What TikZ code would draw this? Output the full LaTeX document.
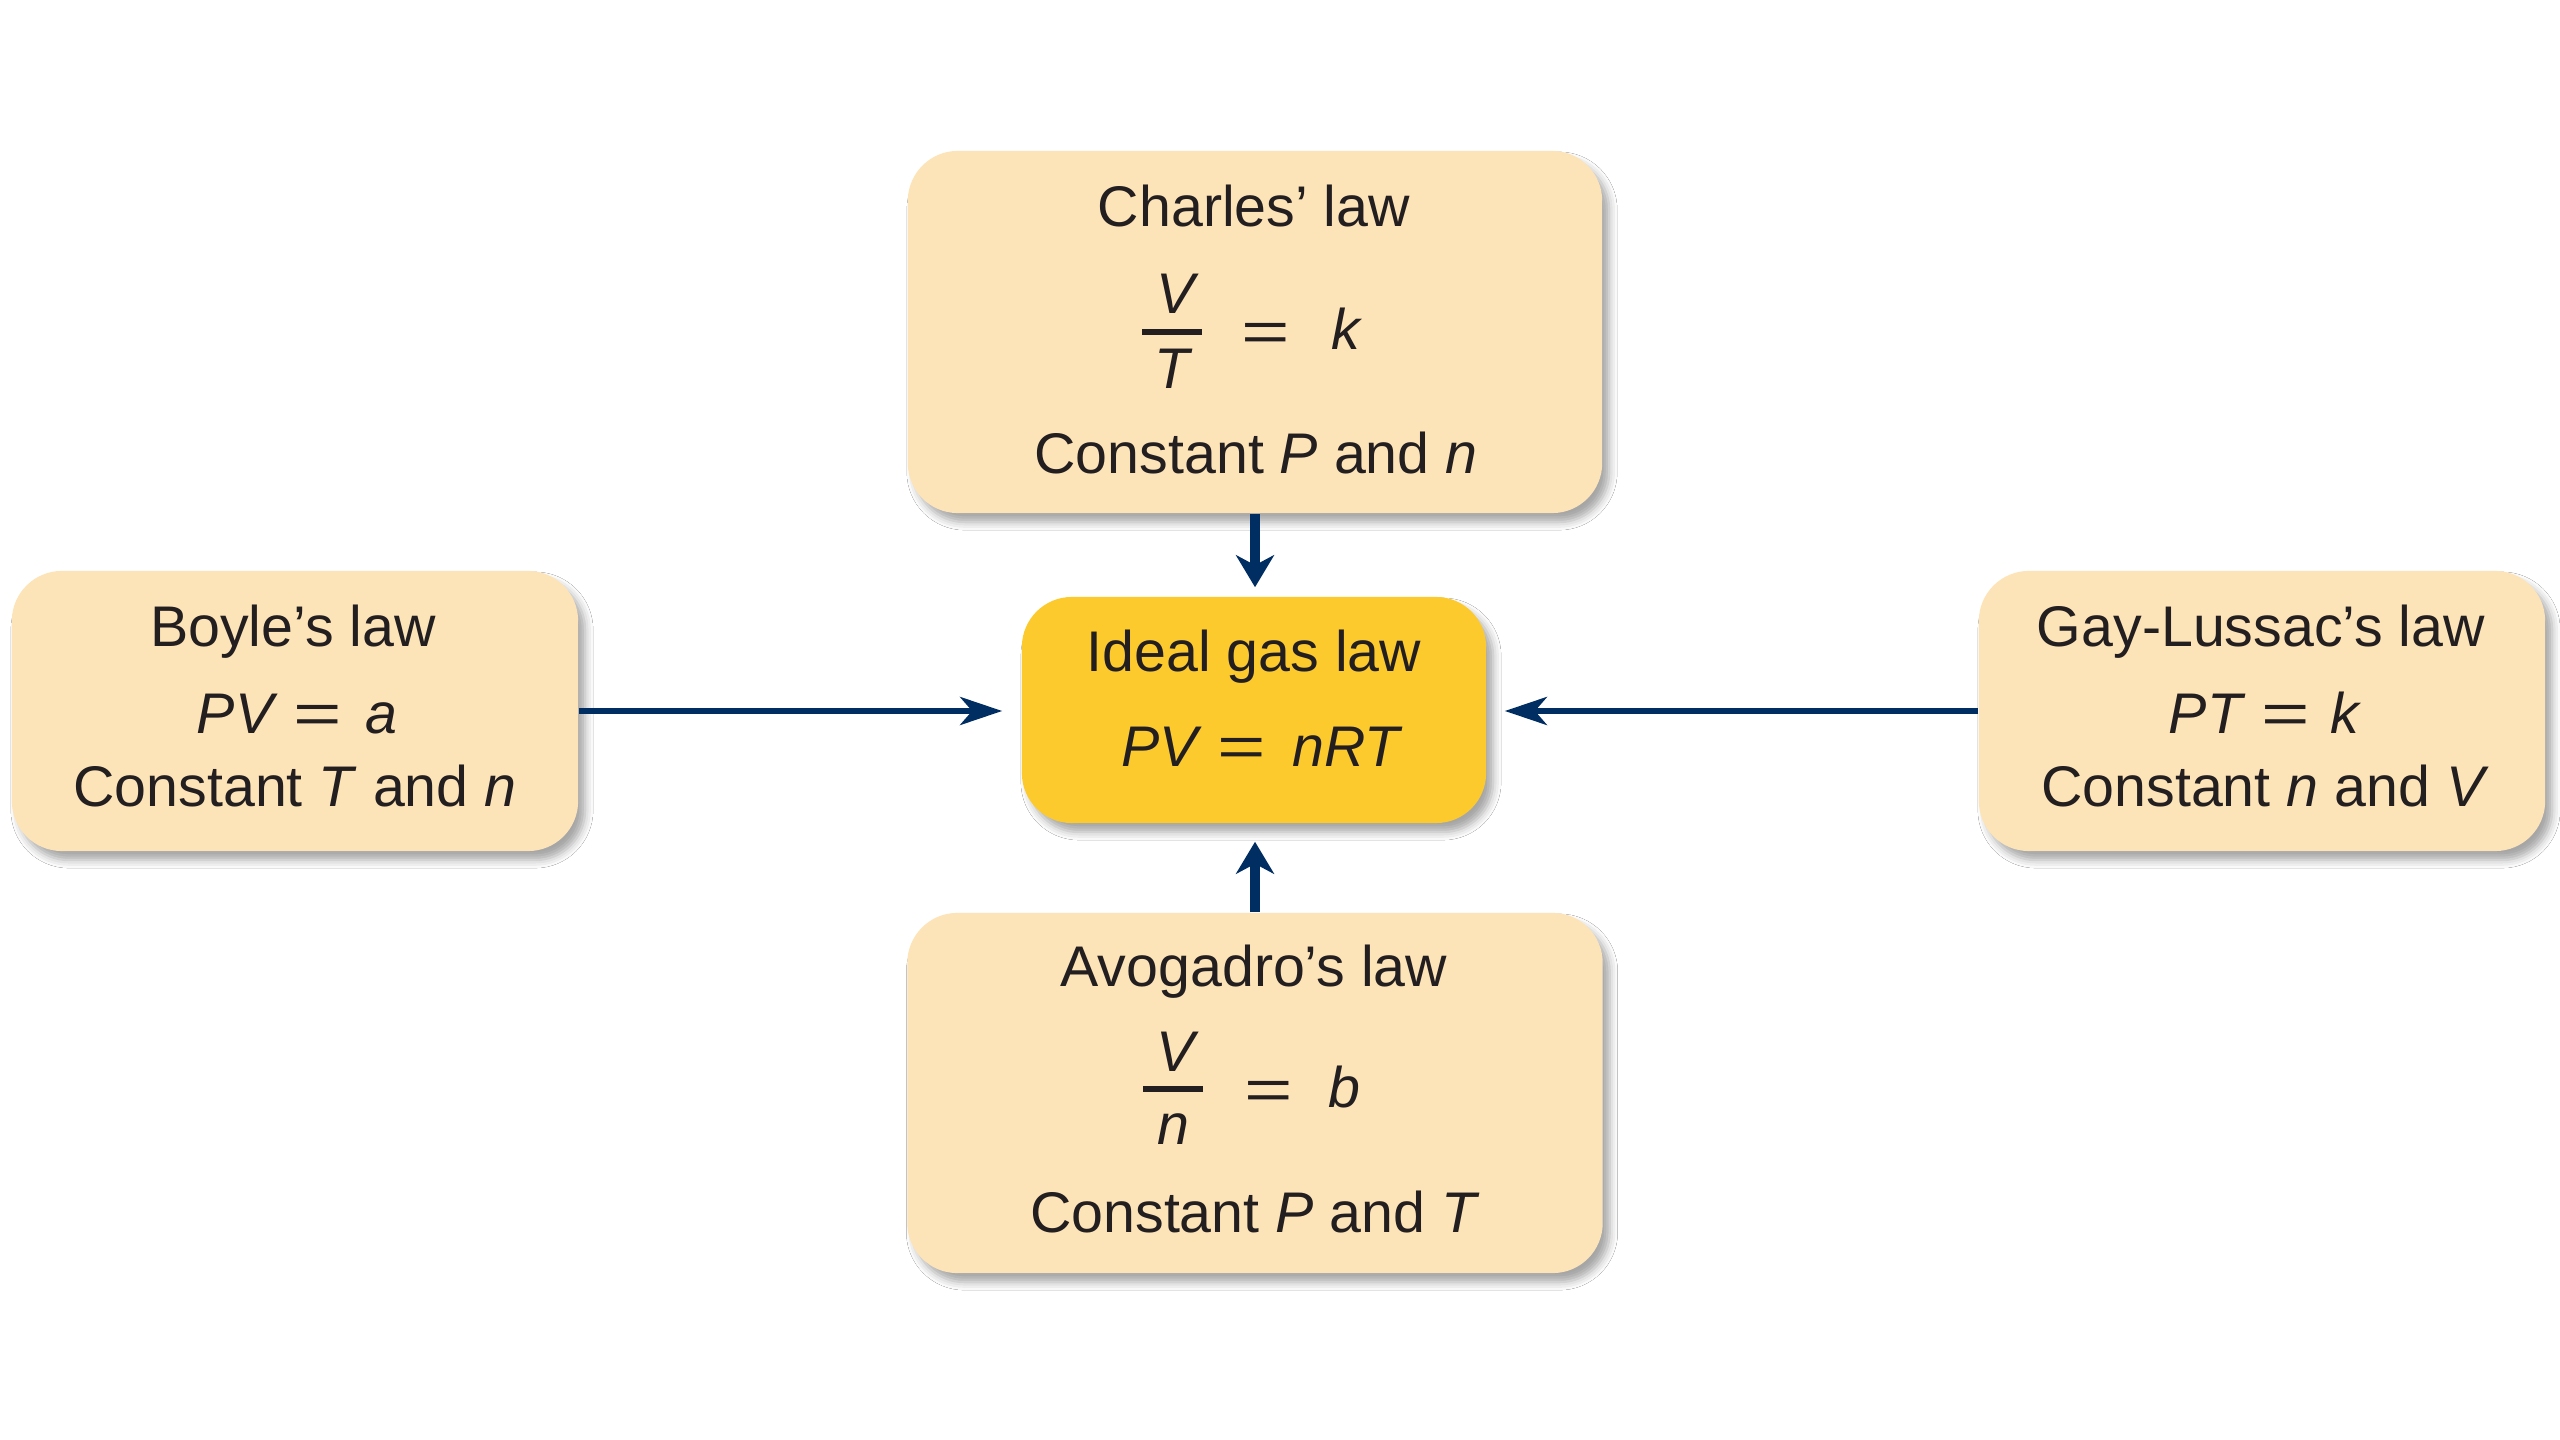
\documentclass[tikz,border=0pt]{standalone}
\usepackage{graphicx}
\usepackage{fontspec}
\setmainfont{Liberation Sans}
\usetikzlibrary{arrows.meta,shadows.blur}
\definecolor{peach}{HTML}{FDE4B8}
\definecolor{gold}{HTML}{FDCA2E}
\definecolor{navy}{HTML}{002D62}
\definecolor{ink}{HTML}{231F20}
% a wide equals sign, as in the formulas of the law boxes
\newcommand\weq{\scalebox{1.45}[1]{=}}

\begin{document}
\begin{tikzpicture}[x=0.01cm,y=-0.01cm,
  box/.style={rounded corners=0.5cm, inner sep=0,
    blur shadow={shadow xshift=0.07cm, shadow yshift=-0.09cm,
                 shadow blur radius=0.08cm, shadow opacity=35}},
  lawbox/.style={box, fill=peach},
  idealbox/.style={box, fill=gold},
  txt/.style={anchor=base, inner sep=0, text=ink,
    font=\fontsize{16.3}{19}\selectfont},
  fracbar/.style={draw=ink, line width=1.7pt},
  feed/.style={draw=navy, line width=1.7pt,
    -{Stealth[length=0.42cm,width=0.28cm,inset=0.12cm]}},
  feedv/.style={draw=navy, line width=3.1pt,
    -{Stealth[length=0.32cm,width=0.38cm,inset=0.1cm]}},
]
\useasboundingbox[fill=white] (0,0) rectangle (2560,1440);

% boxes
\node[lawbox, minimum width=6.94cm, minimum height=3.62cm] (charles) at (1255,332) {};
\node[lawbox, minimum width=5.66cm, minimum height=2.80cm] (boyle) at (295,711) {};
\node[idealbox, minimum width=4.64cm, minimum height=2.26cm] (ideal) at (1254,710) {};
\node[lawbox, minimum width=5.66cm, minimum height=2.80cm] (gay) at (2262,711) {};
\node[lawbox, minimum width=6.95cm, minimum height=3.60cm] (avog) at (1255,1093) {};

% connectors into the ideal gas law
\draw[feedv, shorten >=0.09cm] (charles.south) -- (charles.south |- ideal.north);
\draw[feedv, shorten >=0.18cm] (avog.north) -- (avog.north |- ideal.south);
\draw[feed, shorten >=0.19cm] (boyle.east) -- (boyle.east -| ideal.west);
\draw[feed, shorten >=0.18cm] (gay.west) -- (gay.west -| ideal.east);

% Charles' law
\node[txt] (charlesT) at (1254,227) {Charles’ law};
\node[txt] (charlesV) at (1176,314) {\itshape V};
\draw[fracbar] (1142,332) -- (1202,332);
\node[txt] (charlesD) at (1172,389) {\itshape T};
\node[txt] (charlesE) at (1266,352) {\weq};
\node[txt] (charlesK) at (1346,350) {\itshape k};
\node[txt] (charlesC) at (1256,474) {Constant \textit{P} and \textit{n}};

% Boyle's law
\node[txt] (boyleT) at (293,647) {Boyle’s law};
\node[txt] (boyleE) at (297,734) {\textit{PV} \weq\hspace{0.4em}\textit{a}};
\node[txt] (boyleC) at (295,807) {Constant \textit{T} and \textit{n}};

% Ideal gas law
\node[txt] (idealT) at (1254,672) {Ideal gas law};
\node[txt] (idealE) at (1262,767) {\textit{PV} \weq\hspace{0.45em}\textit{nRT}};

% Gay-Lussac's law
\node[txt] (gayT) at (2261,647) {Gay-Lussac’s law};
\node[txt] (gayE) at (2265,734) {\textit{PT} \weq\hspace{0.35em}\textit{k}};
\node[txt] (gayC) at (2265,807) {Constant \textit{n} and \textit{V}};

% Avogadro's law
\node[txt] (avogT) at (1254,986) {Avogadro’s law};
\node[txt] (avogV) at (1176,1071) {\itshape V};
\draw[fracbar] (1143,1089) -- (1203,1089);
\node[txt] (avogD) at (1173,1144) {\itshape n};
\node[txt] (avogE) at (1269,1109) {\weq};
\node[txt] (avogB) at (1344,1107) {\itshape b};
\node[txt] (avogC) at (1255,1232) {Constant \textit{P} and \textit{T}};
\end{tikzpicture}
\end{document}
